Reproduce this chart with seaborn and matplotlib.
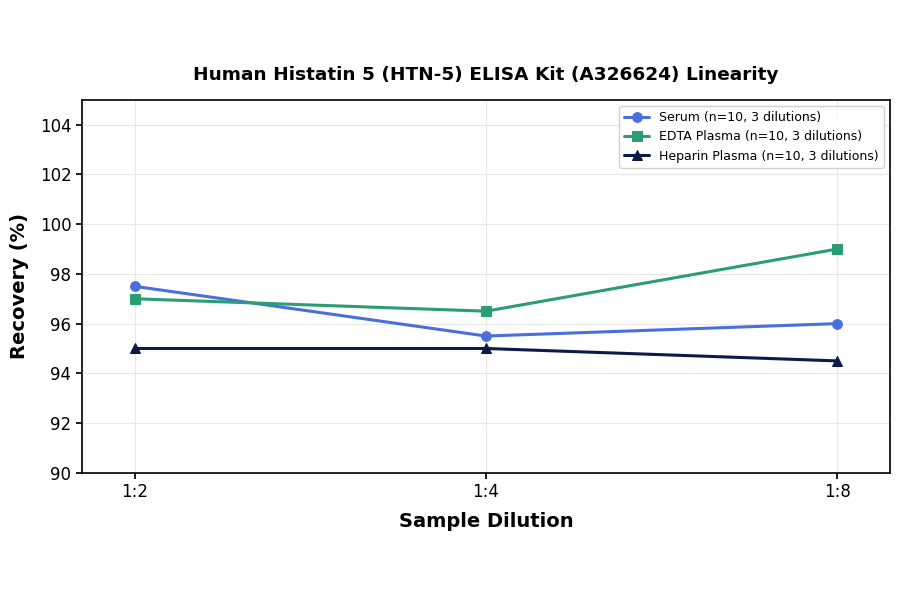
import matplotlib
matplotlib.use("Agg")
import matplotlib.pyplot as plt
import seaborn as sns
import pandas as pd

dilutions = ["1:2", "1:4", "1:8"]
serum = [97.5, 95.5, 96.0]
edta = [97.0, 96.5, 99.0]
heparin = [95.0, 95.0, 94.5]
series_names = ["Serum (n=10, 3 dilutions)", "EDTA Plasma (n=10, 3 dilutions)", "Heparin Plasma (n=10, 3 dilutions)"]

sns.set_theme(style="whitegrid")
plt.rcParams['font.family'] = ['DejaVu Sans']
plt.rcParams['text.color'] = 'black'
plt.rcParams['axes.labelcolor'] = 'black'

rows = []
for name, vals in zip(series_names, [serum, edta, heparin]):
    for i, (d, v) in enumerate(zip(dilutions, vals)):
        rows.append({"pos": i, "Dilution": d, "Recovery": v, "Series": name})
df = pd.DataFrame(rows)

fig = plt.figure(figsize=(9, 5.94), dpi=100)
ax = fig.add_axes([0.091, 0.204, 0.898, 0.628])

colors = ["#4a6fdc", "#2a9d74", "#0b1a48"]
markers = ["o", "s", "^"]
for name, c, m in zip(series_names, colors, markers):
    sub = df[df["Series"] == name]
    sns.lineplot(data=sub, x="pos", y="Recovery", ax=ax, color=c, marker=m,
                 markersize=7, linewidth=2.2, label=name, markeredgecolor=c)

ax.set_xticks(range(len(dilutions)))
ax.set_xticklabels(dilutions)
ax.set_xlim(-0.15, 2.15)
ax.set_ylim(90, 105)
ax.set_yticks([90, 92, 94, 96, 98, 100, 102, 104])
ax.tick_params(axis="both", labelsize=12, colors="black", length=4, left=True, bottom=True)
ax.grid(True, color="#e8e8e8", linewidth=0.8)
for s in ax.spines.values():
    s.set_color("black")
    s.set_linewidth(1.2)
ax.set_facecolor("white")
ax.set_xlabel("Sample Dilution", fontsize=14, fontweight="bold", labelpad=8, color="black")
ax.set_ylabel("Recovery (%)", fontsize=14, fontweight="bold", labelpad=8, color="black")
ax.set_title("Human Histatin 5 (HTN-5) ELISA Kit (A326624) Linearity", fontsize=13.3,
             fontweight="bold", pad=14, color="black")
leg = ax.legend(loc="upper right", fontsize=9, frameon=True, framealpha=0.9)
for t in leg.get_texts():
    t.set_color("black")

fig.savefig("out.png", dpi=100)
